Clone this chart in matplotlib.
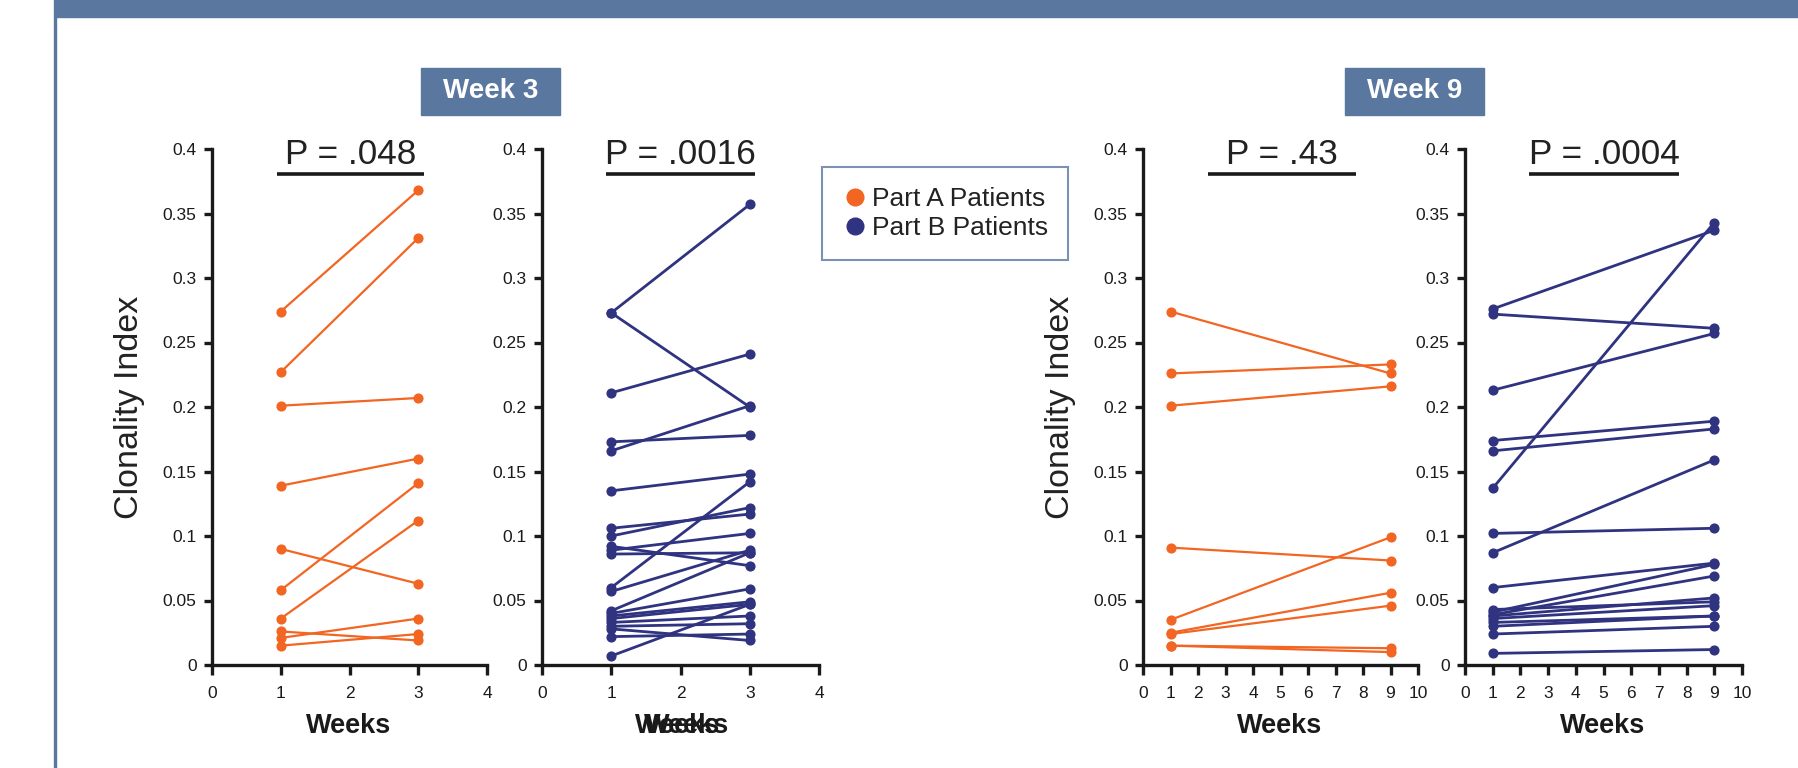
import matplotlib
matplotlib.use("Agg")
import matplotlib.pyplot as plt
from matplotlib.lines import Line2D
from matplotlib.patches import Rectangle

plt.rcParams['font.family'] = ['Liberation Sans', 'DejaVu Sans']

ORANGE = "#F26522"
NAVY = "#2F3380"
BANNER = "#5A77A0"

# ---- data ----
# week 3, part A patients (week 1 -> week 3)
a3_start = [0.274, 0.227, 0.201, 0.139, 0.058, 0.036, 0.090, 0.021, 0.026, 0.015]
a3_end = [0.368, 0.331, 0.207, 0.160, 0.141, 0.112, 0.063, 0.036, 0.019, 0.024]

# week 3, part B patients
b3_start = [0.273, 0.273, 0.211, 0.173, 0.166, 0.135, 0.106, 0.100, 0.092, 0.089,
            0.086, 0.060, 0.057, 0.042, 0.040, 0.038, 0.036, 0.033, 0.030, 0.028,
            0.022, 0.007]
b3_end = [0.357, 0.200, 0.241, 0.178, 0.201, 0.148, 0.117, 0.122, 0.077, 0.102,
          0.087, 0.142, 0.089, 0.087, 0.059, 0.049, 0.047, 0.038, 0.032, 0.019,
          0.024, 0.047]

# week 9, part A patients (week 1 -> week 9)
a9_start = [0.274, 0.226, 0.201, 0.091, 0.035, 0.025, 0.024, 0.015, 0.015]
a9_end = [0.226, 0.233, 0.216, 0.081, 0.099, 0.056, 0.046, 0.013, 0.010]

# week 9, part B patients
b9_start = [0.276, 0.272, 0.213, 0.174, 0.166, 0.137, 0.102, 0.087, 0.060, 0.043,
            0.041, 0.039, 0.038, 0.036, 0.033, 0.030, 0.024, 0.009]
b9_end = [0.337, 0.261, 0.257, 0.189, 0.183, 0.343, 0.106, 0.159, 0.079, 0.049,
          0.078, 0.069, 0.052, 0.046, 0.038, 0.038, 0.030, 0.012]

p_texts = ["P = .048", "P = .0016", "P = .43", "P = .0004"]
yticks = [0, 0.05, 0.1, 0.15, 0.2, 0.25, 0.3, 0.35, 0.4]
ytick_labels = ["0", "0.05", "0.1", "0.15", "0.2", "0.25", "0.3", "0.35", "0.4"]

W, H = 1798, 768
fig = plt.figure(figsize=(W / 100, H / 100), dpi=100)


def px_rect(x0, x1, y_top, y_bot):
    return [x0 / W, 1 - y_bot / H, (x1 - x0) / W, (y_bot - y_top) / H]


def panel(rect, x0, x1, start, end, color, lw, xmax, ptext, pline, ylabel):
    ax = fig.add_axes(rect)
    for a, b in zip(start, end):
        ax.plot([x0, x1], [a, b], "-o", color=color, lw=lw, ms=6.3, clip_on=False, zorder=3)
    ax.set_xlim(0, xmax)
    ax.set_ylim(0, 0.4)
    ax.set_xticks(range(0, xmax + 1))
    ax.set_yticks(yticks)
    ax.set_yticklabels(ytick_labels)
    for s in ["top", "right"]:
        ax.spines[s].set_visible(False)
    for s in ["left", "bottom"]:
        ax.spines[s].set_linewidth(2.4)
        ax.spines[s].set_color("#1a1a1a")
    ax.tick_params(direction="out", length=7, width=2.4, labelsize=12.5,
                   colors="#1a1a1a", pad=8)
    ax.tick_params(axis="y", length=6, pad=5)
    # p value and bar
    ax.text(sum(pline) / 2, 0.3885, ptext, ha="center", va="baseline",
            fontsize=25.3, color="#222222", clip_on=False)
    ax.plot(pline, [0.381, 0.381], color="#1a1a1a", lw=2.6, clip_on=False,
            solid_capstyle="butt")
    if ylabel:
        ax.set_ylabel("Clonality Index", fontsize=24.5, labelpad=13, color="#222222")
    return ax


ax1 = panel(px_rect(212, 487, 149, 665), 1, 3, a3_start, a3_end, ORANGE, 1.6, 4,
            p_texts[0], [0.95, 3.09], True)
ax2 = panel(px_rect(542, 819, 149, 665), 1, 3, b3_start, b3_end, NAVY, 2.0, 4,
            p_texts[1], [0.93, 3.07], False)
ax3 = panel(px_rect(1143, 1418, 149, 665), 1, 9, a9_start, a9_end, ORANGE, 1.6, 10,
            p_texts[2], [2.38, 7.75], True)
ax4 = panel(px_rect(1465, 1742, 149, 665), 1, 9, b9_start, b9_end, NAVY, 2.0, 10,
            p_texts[3], [2.32, 7.74], False)

# "Weeks" labels (the second panel has two overlapping copies in the source)
for cx in [349, 1280, 1603]:
    fig.text(cx / W, 1 - 726 / H, "Weeks", ha="center", va="center",
             fontsize=19.5, fontweight="bold", color="#1a1a1a")
for cx in [678, 687]:
    fig.text(cx / W, 1 - 726 / H, "Weeks", ha="center", va="center",
             fontsize=19.5, fontweight="bold", color="#1a1a1a")

# banner, left rule and week boxes
fig.patches.append(Rectangle((55 / W, 1 - 17 / H), 1 - 55 / W, 17 / H,
                             transform=fig.transFigure, color=BANNER, zorder=0))
fig.patches.append(Rectangle((54 / W, 0), 2 / W, 1, transform=fig.transFigure,
                             color=BANNER, zorder=0))
for x0, label in [(421, "Week 3"), (1345, "Week 9")]:
    fig.patches.append(Rectangle((x0 / W, 1 - 115 / H), 139 / W, 47 / H,
                                 transform=fig.transFigure, color=BANNER, zorder=0))
    fig.text((x0 + 69.5) / W, 1 - 91.5 / H, label, ha="center", va="center",
             fontsize=20, fontweight="bold", color="white")

# legend
handles = [Line2D([], [], ls="none", marker="o", ms=12, color=ORANGE),
           Line2D([], [], ls="none", marker="o", ms=12, color=NAVY)]
leg = fig.legend(handles, ["Part A Patients", "Part B Patients"],
                 loc="upper left", bbox_to_anchor=(822 / W, 1 - 167 / H),
                 fontsize=19, frameon=True, fancybox=False, handletextpad=0.15,
                 handlelength=1.0, borderpad=0.75, labelspacing=0.2,
                 borderaxespad=0)
leg.get_frame().set_edgecolor(BANNER)
leg.get_frame().set_linewidth(1.5)
for t in leg.get_texts():
    t.set_color("#222222")

fig.savefig("out.png", dpi=100)
